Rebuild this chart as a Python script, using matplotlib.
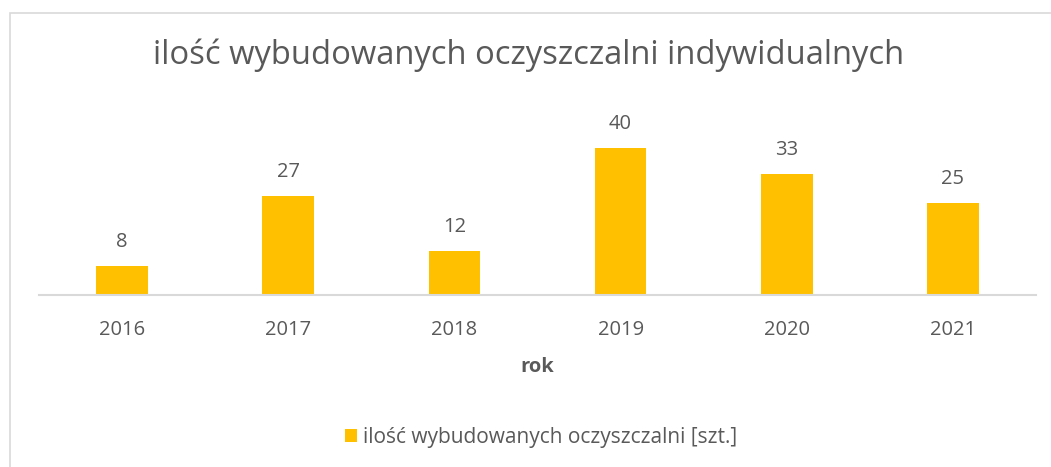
import matplotlib
matplotlib.use("Agg")
import matplotlib.pyplot as plt
from matplotlib.patches import Rectangle

years = ["2016", "2017", "2018", "2019", "2020", "2021"]
values = [8, 27, 12, 40, 33, 25]
title = "ilość wybudowanych oczyszczalni indywidualnych"
series_name = "ilość wybudowanych oczyszczalni [szt.]"
xlabel = "rok"

W, H = 1051, 467
plt.rcParams['font.family'] = ['Open Sans', 'DejaVu Sans']
fig = plt.figure(figsize=(W / 100, H / 100), dpi=100)
fig.patch.set_facecolor("white")

txt = "#595959"
# outer chart border
fig.patches.append(Rectangle((10 / W, -0.05), 1.2, 1 - 13 / H + 0.05,
                             transform=fig.transFigure, fill=False,
                             edgecolor="#D9D9D9", linewidth=1.2))

ax_left, ax_right = 39 / W, 1036 / W
ax_bottom = (H - 295) / H
ax_height = 165 / H
ax = fig.add_axes([ax_left, ax_bottom, ax_right - ax_left, ax_height])
x = range(len(years))
bars = ax.bar(x, values, width=0.31, color="#FFC000", zorder=2)
ax.set_xlim(-0.5, len(years) - 0.5)
ax.set_ylim(0, 45)
for s in ["top", "right", "left"]:
    ax.spines[s].set_visible(False)
ax.spines["bottom"].set_color("#D9D9D9")
ax.spines["bottom"].set_linewidth(1.5)
ax.set_yticks([])
ax.set_xticks(list(x))
ax.set_xticklabels(years, fontsize=14.5, color=txt)
ax.tick_params(axis="x", length=0, pad=18)
ax.set_xlabel(xlabel, fontsize=14.5, fontweight="bold", color=txt, labelpad=12)
for xi, v in zip(x, values):
    ax.annotate(str(v), (xi, v), xytext=(0, 10), textcoords="offset points",
                ha="center", va="bottom", fontsize=14.5, color=txt)

fig.text(529 / W, 1 - 55 / H, title, ha="center", va="center", fontsize=23.6, color=txt)

# legend
leg = fig.legend([bars], [series_name], loc="center", bbox_to_anchor=(541 / W, 1 - 437 / H),
                 frameon=False, fontsize=15, handlelength=0.6, handleheight=0.6,
                 handletextpad=0.3, labelcolor=txt)

fig.savefig("out.png", dpi=100)
